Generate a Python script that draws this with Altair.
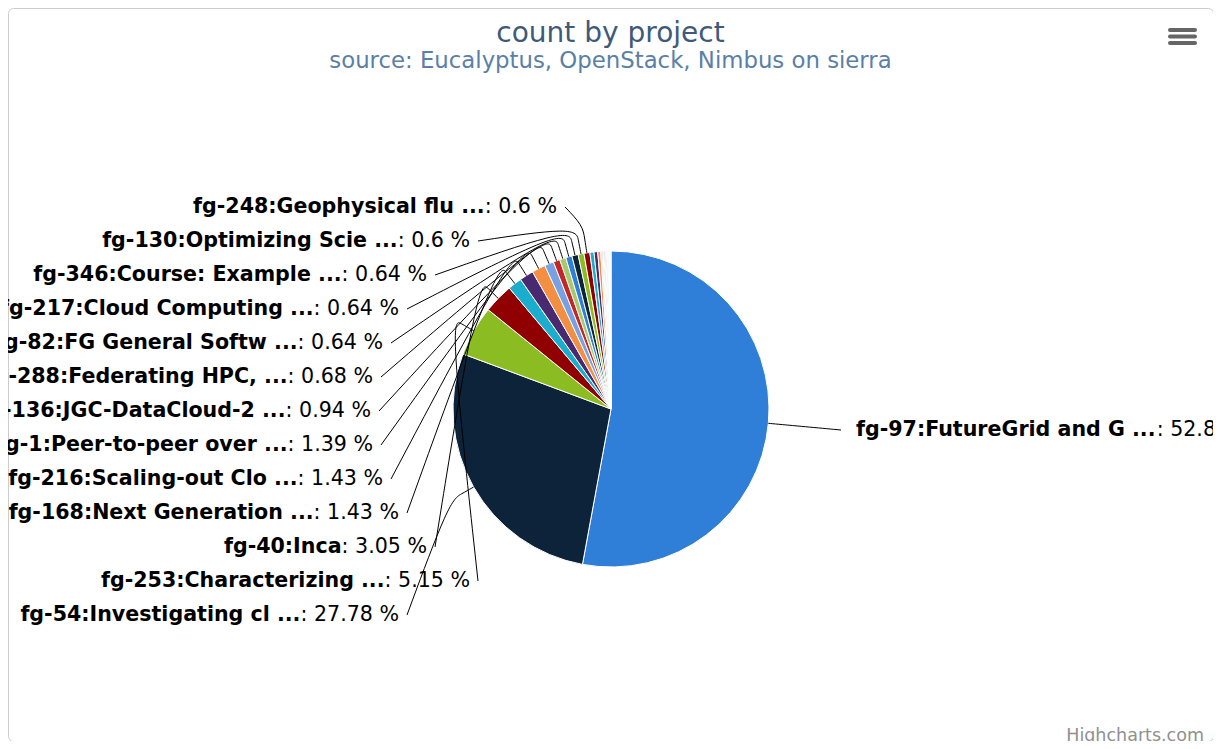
import altair as alt
import pandas as pd
import numpy as np

# ---------------- data ----------------
projects = [
    "fg-97:FutureGrid and G ...", "fg-54:Investigating cl ...", "fg-253:Characterizing ...",
    "fg-40:Inca", "fg-168:Next Generation ...", "fg-216:Scaling-out Clo ...",
    "fg-1:Peer-to-peer over ...", "fg-136:JGC-DataCloud-2 ...", "fg-288:Federating HPC, ...",
    "fg-82:FG General Softw ...", "fg-217:Cloud Computing ...", "fg-346:Course: Example ...",
    "fg-130:Optimizing Scie ...", "fg-248:Geophysical flu ...",
]
shares = [52.89, 27.78, 5.15, 3.05, 1.43, 1.43, 1.39, 0.94, 0.68, 0.64, 0.64, 0.64, 0.60, 0.60]
# small slices whose labels are hidden in the reference
small_projects = [f"project {i}" for i in range(15, 32)]
small_shares = [0.42, 0.38, 0.30, 0.12, 0.10, 0.10, 0.10, 0.08, 0.08, 0.08, 0.08,
                0.06, 0.06, 0.06, 0.04, 0.04, 0.04]

title_text = "count by project"
subtitle_text = "source: Eucalyptus, OpenStack, Nimbus on sierra"
credit_text = "Highcharts.com"

palette = ['#2f7ed8', '#0d233a', '#8bbc21', '#910000', '#1aadce',
           '#492970', '#f28f43', '#77a1e5', '#c42525', '#a6c96a']

# ---------------- layout ----------------
W, H = 1205, 733
OFF = 8                       # page margin
CX, CY = 611 - OFF, 409 - OFF  # pie centre
R = 158
FS = 20.6
FONT = "DejaVu Sans"
SLOT_TOP, SLOT_STEP = 207 - OFF, 34
# label text right ends for left-hand labels, top slot first
left_order = [13, 12, 11, 10, 9, 8, 7, 6, 5, 4, 3, 2, 1]
left_ends = [557, 470, 427, 399, 383, 373, 371, 373, 383, 399, 427, 470, 399]
right_start, right_y = 856 - OFF, 430 - OFF

norm_w = {**{d: 0.636 for d in "0123456789"}, ".": 0.318, ":": 0.337, " ": 0.318, "%": 0.950}
bold_w = {"f": .435, "g": .716, "-": .416, "9": .696, "7": .696, ":": .399, "F": .683, "u": .712,
          "t": .478, "r": .493, "e": .678, "G": .821, "i": .343, "d": .716, " ": .348, "a": .675,
          "n": .712, ".": .380}

names = projects + small_projects
vals = shares + small_shares
df = pd.DataFrame({"project": names, "count": vals, "idx": range(len(names))})
total = df["count"].sum()
cum = df["count"].cumsum() - df["count"] / 2
df["mid"] = cum / total * 2 * np.pi
df["pct"] = df["count"] / total * 100


def fmt(p):
    s = f"{p:.2f}".rstrip("0").rstrip(".")
    return f": {s} %"


def connector(i, sx, sy):
    a = df.mid[i]
    ex, ey = CX + R * np.sin(a), CY - R * np.cos(a)
    bx, by = CX + (R + 14) * np.sin(a), CY - (R + 14) * np.cos(a)
    pts = [(sx, sy), (2 * bx - ex, 2 * by - ey), (bx, by), (ex, ey)]
    return [dict(project=projects[i], pt=j, x=px, y=py) for j, (px, py) in enumerate(pts)]


labels = []
lines = []
for k, i in enumerate(left_order):
    y = SLOT_TOP + k * SLOT_STEP
    end = left_ends[k] - OFF
    ptxt = fmt(df.pct[i])
    pw = sum(norm_w[c] for c in ptxt) * FS
    labels.append(dict(project=projects[i], ptxt=ptxt, y=y, xp=end, xb=end - pw, side="L"))
    lines += connector(i, end + 8, y)

# right-hand label
bw = sum(bold_w[c] for c in projects[0]) * FS
labels.append(dict(project=projects[0], ptxt=fmt(df.pct[0]), y=right_y,
                   xp=right_start + bw, xb=right_start, side="R"))
lines += connector(0, right_start - 15, right_y)

lab = pd.DataFrame(labels)
con = pd.DataFrame(lines)

xs = alt.Scale(domain=[0, W], nice=False, zero=False)
ys = alt.Scale(domain=[0, H], nice=False, zero=False, reverse=True)

pie = alt.Chart(df).mark_arc(radius=R, stroke="white", strokeWidth=1).encode(
    theta=alt.Theta("count:Q"),
    order=alt.Order("idx:Q"),
    color=alt.Color("idx:O", scale=alt.Scale(domain=list(df.idx),
                    range=[palette[i % 10] for i in df.idx]), legend=None),
    x=alt.value(CX), y=alt.value(CY),
)

conn = alt.Chart(con).mark_line(interpolate="basis", color="#000000", strokeWidth=1).encode(
    x=alt.X("x:Q", scale=xs, axis=None),
    y=alt.Y("y:Q", scale=ys, axis=None),
    detail="project:N",
    order="pt:Q",
)

left = lab[lab.side == "L"]
right = lab[lab.side == "R"]


def txt(data, align, xfield, tfield, bold):
    return alt.Chart(data).mark_text(align=align, baseline="middle", font=FONT, fontSize=FS,
                                     fontWeight="bold" if bold else "normal",
                                     color="#000000").encode(
        x=alt.X(f"{xfield}:Q", scale=xs, axis=None),
        y=alt.Y("y:Q", scale=ys, axis=None), text=f"{tfield}:N")


lb = txt(left, "right", "xb", "project", True)
lp = txt(left, "right", "xp", "ptxt", False)
rb = txt(right, "left", "xb", "project", True)
rp = txt(right, "left", "xp", "ptxt", False)

credit = alt.Chart(pd.DataFrame({"t": [credit_text]})).mark_text(
    align="right", baseline="middle", font=FONT, fontSize=17.5, color="#909090").encode(
    x=alt.value(1204 - OFF), y=alt.value(736 - OFF), text="t:N")

# export-menu button (three bars)
menu_bars = pd.DataFrame({"bar": [0, 1, 2]})
menu = alt.Chart(menu_bars).mark_rule(color="#666666", strokeWidth=4, strokeCap="round").transform_calculate(
    yy=f"{30 - OFF} + datum.bar * 6.5"
).encode(
    x=alt.value(1170 - OFF), x2=alt.value(1195 - OFF),
    y=alt.Y("yy:Q", scale=ys, axis=None),
)

chart = alt.layer(pie, conn, lb, lp, rb, rp, credit, menu).properties(
    width=W, height=H,
    autosize=alt.AutoSizeParams(type="none"),
    padding=0,
    title=alt.TitleParams(title_text, subtitle=subtitle_text, font=FONT, subtitleFont=FONT,
                          fontSize=28, subtitleFontSize=22.8, fontWeight="normal",
                          color="#3e5a7a", subtitleColor="#5a80a8", anchor="middle",
                          offset=0, dy=65, subtitlePadding=2),
).configure_view(stroke="#cccccc", cornerRadius=5)

chart.save("out.html", embed_options={"renderer": "svg", "actions": False})
